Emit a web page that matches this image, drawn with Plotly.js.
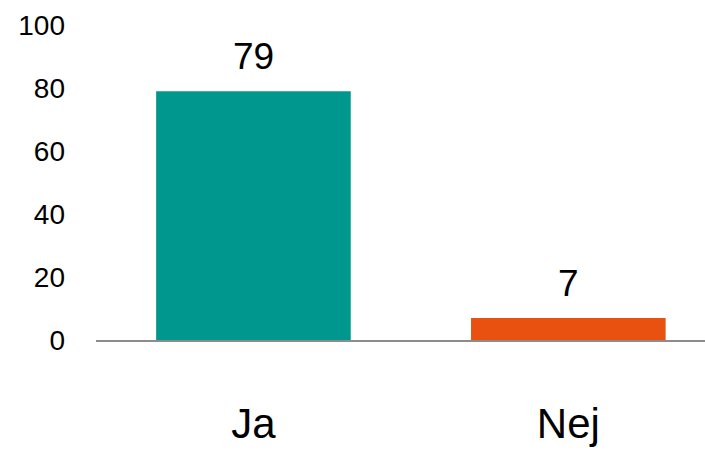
<!DOCTYPE html>
<html>
<head>
<meta charset="utf-8">
<script src="https://cdn.plot.ly/plotly-3.0.1.min.js"></script>
<style>html,body{margin:0;padding:0;background:#fff;}#chart{width:705px;height:450px;}</style>
</head>
<body>
<div id="chart"></div>
<script>
const categories = ["Ja", "Nej"];
const values = [79, 7];
const barColors = ["#00978F", "#E85110"];
const yTicks = [0, 20, 40, 60, 80, 100];

const font = "Liberation Sans, Arial, sans-serif";

const trace = {
  type: "bar",
  x: categories,
  y: values,
  width: 0.618,
  marker: { color: barColors },
  hoverinfo: "none"
};

const annotations = categories.map((c, i) => ({
  x: c, y: values[i], xref: "x", yref: "y",
  text: String(values[i]),
  showarrow: false,
  yanchor: "bottom",
  yshift: 12,
  font: { family: font, size: 37, color: "#000" }
}));

const layout = {
  width: 705, height: 450,
  margin: { l: 96, r: 0, t: 24.5, b: 109.5 },
  paper_bgcolor: "#fff", plot_bgcolor: "#fff",
  showlegend: false,
  font: { family: font, color: "#000" },
  xaxis: {
    type: "category",
    range: [-0.5, 1.434],
    showgrid: false,
    zeroline: false,
    showline: true,
    linecolor: "#8c8c8c",
    linewidth: 2,
    ticks: "",
    tickfont: { family: font, size: 42, color: "#000" },
    ticklabelstandoff: 46
  },
  yaxis: {
    range: [0, 100],
    tickvals: yTicks,
    showgrid: false,
    zeroline: false,
    showline: false,
    ticks: "",
    tickfont: { family: font, size: 28, color: "#000" },
    ticklabelstandoff: 30
  },
  annotations: annotations
};

Plotly.newPlot("chart", [trace], layout, { displayModeBar: false, staticPlot: true });
</script>
</body>
</html>
